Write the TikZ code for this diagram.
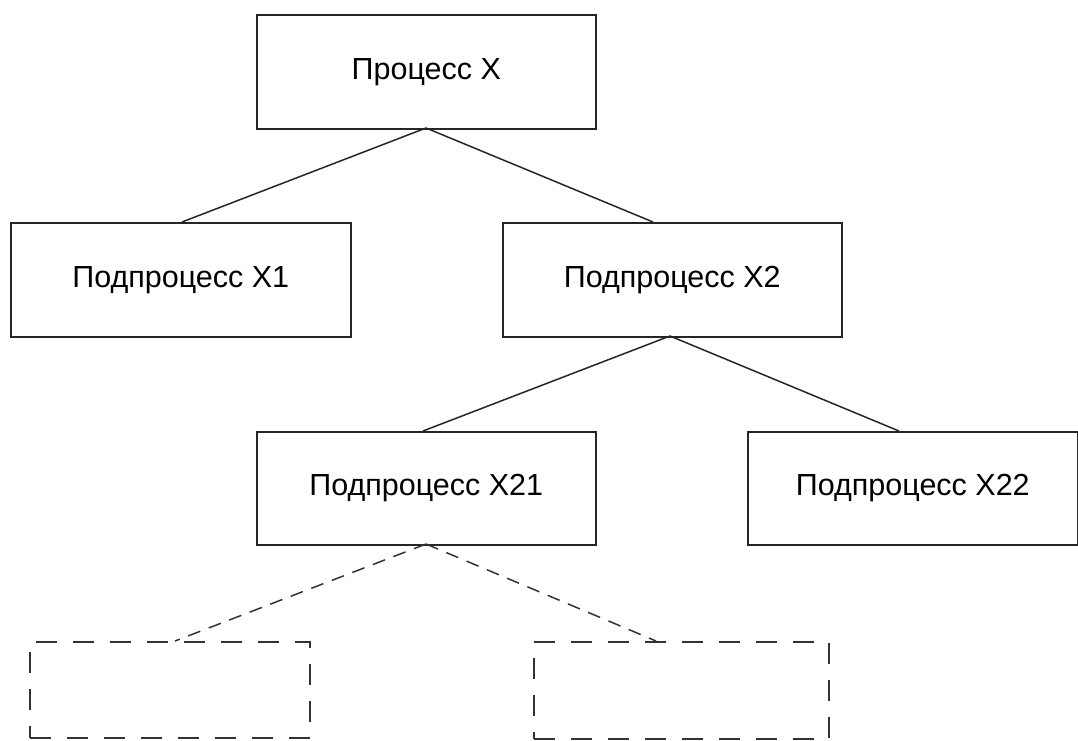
\documentclass[tikz,border=0pt]{standalone}
\usepackage{fontspec}
\setmainfont{Liberation Sans}
\begin{document}
\begin{tikzpicture}[x=1pt,y=-1pt,
  procbox/.style={draw=black!85, line width=1.6pt, inner sep=0pt, anchor=north west,
    font=\fontsize{30.5}{36}\selectfont},
  emptybox/.style={draw=black!80, line width=1.6pt, inner sep=0pt, anchor=north west,
    dash pattern=on 21pt off 16pt},
  link/.style={draw=black!85, line width=1.5pt},
  dlink/.style={draw=black!80, line width=1.5pt, dash pattern=on 13pt off 9pt}]
\useasboundingbox (0,0) rectangle (1078,740);
% process boxes
\node[procbox, minimum width=339pt, minimum height=114pt] (px) at (256,14) {Процесс X};
\node[procbox, minimum width=340pt, minimum height=114pt] (x1) at (10,222) {Подпроцесс X1};
\node[procbox, minimum width=339pt, minimum height=114pt] (x2) at (502,222) {Подпроцесс X2};
\node[procbox, minimum width=339pt, minimum height=113pt] (x21) at (256,431) {Подпроцесс X21};
\node[procbox, minimum width=330pt, minimum height=113pt] (x22) at (747,431) {Подпроцесс X22};
% empty placeholder boxes
\node[emptybox, minimum width=280pt, minimum height=96pt] (e1) at (29,641) {};
\node[emptybox, minimum width=295pt, minimum height=97pt] (e2) at (533,641) {};
% attachment points
\coordinate (px-b) at (426,128);
\coordinate (x1-t) at (182,222);
\coordinate (x2-t) at (653,222);
\coordinate (x2-b) at (670,336);
\coordinate (x21-t) at (423,431);
\coordinate (x22-t) at (899,431);
\coordinate (x21-b) at (426,544);
\coordinate (e1-t) at (175,641);
\coordinate (e2-t) at (656,641);
% connectors
\draw[link] (px-b) -- (x1-t);
\draw[link] (px-b) -- (x2-t);
\draw[link] (x2-b) -- (x21-t);
\draw[link] (x2-b) -- (x22-t);
\draw[dlink] (x21-b) -- (e1-t);
\draw[dlink] (x21-b) -- (e2-t);
\end{tikzpicture}
\end{document}
